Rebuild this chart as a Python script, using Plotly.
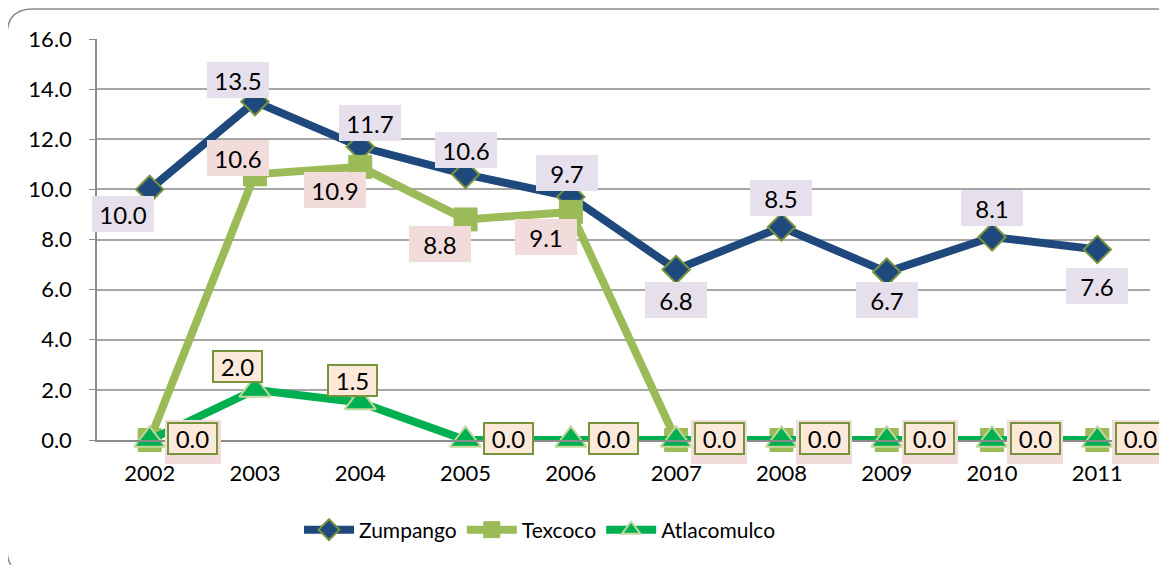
import plotly.graph_objects as go

years = ['2002', '2003', '2004', '2005', '2006', '2007', '2008', '2009', '2010', '2011']
zumpango = [10.0, 13.5, 11.7, 10.6, 9.7, 6.8, 8.5, 6.7, 8.1, 7.6]
texcoco = [0.0, 10.6, 10.9, 8.8, 9.1, 0.0, 0.0, 0.0, 0.0, 0.0]
atlacomulco = [0.0, 2.0, 1.5, 0.0, 0.0, 0.0, 0.0, 0.0, 0.0, 0.0]
y_ticks = [0, 2, 4, 6, 8, 10, 12, 14, 16]

# pixel offsets of the value boxes from their points
zum_shift = [(-27, -25), (-17, 22), (10, 24), (0, 24), (-4, 24),
             (0, -30), (0, 29), (0, -28), (0, 29), (0, -36)]
tex_shift = [(-17, 16), (-25, -23), (-26, -25), (-25, -25)]
atl_shift = [(-17, 23), (-8, 22)]

FONT = 'Lato'
OFF = 8  # page body margin
W, H = 1167, 565
L, R, T, B = 97 - OFF, 17 + OFF, 39 - OFF, 125 + OFF
PW, PH = W - L - R, H - T - B


def px(x):
    return (x - OFF - L) / PW


def py(y):
    return (H - B - (y - OFF)) / PH


fig = go.Figure()
fig.add_trace(go.Scatter(
    x=years, y=zumpango, name='Zumpango', mode='lines+markers', cliponaxis=False,
    line=dict(color='#1F497D', width=8),
    marker=dict(symbol='diamond', size=21, color='#1F497D',
                line=dict(color='#77933C', width=2))))
fig.add_trace(go.Scatter(
    x=years, y=texcoco, name='Texcoco', mode='lines+markers', cliponaxis=False,
    line=dict(color='#9BBB59', width=8),
    marker=dict(symbol='square', size=23, color='#9BBB59',
                line=dict(color='#9BBB59', width=1))))
fig.add_trace(go.Scatter(
    x=years, y=atlacomulco, name='Atlacomulco', mode='lines+markers', cliponaxis=False,
    line=dict(color='#00B050', width=8),
    marker=dict(symbol='triangle-up', size=27, color='#00B050',
                line=dict(color='#C3D69B', width=2))))


def label(i, v, text, dx, dy, w, h, bg, border=None):
    fig.add_annotation(
        x=i, y=v, xref='x', yref='y', text=text, showarrow=False,
        xshift=dx, yshift=dy, width=w, height=h, bgcolor=bg,
        bordercolor=border or 'rgba(0,0,0,0)', borderwidth=2 if border else 0,
        borderpad=0, font=dict(family=FONT, size=24, color='black'))


for i, v in enumerate(zumpango):
    dx, dy = zum_shift[i]
    label(i, v, f'{v:.1f}', dx, dy, 62, 36, '#E6E0EC')
k = 0
for i, v in enumerate(texcoco):
    if v > 0:
        dx, dy = tex_shift[k]
        k += 1
        label(i, v, f'{v:.1f}', dx, dy, 62, 36, '#F2DCDB')
    else:
        # hidden behind the Atlacomulco box, only its edge shows
        label(i, v, ' ', 43, -2, 56, 44, '#F2DCDB')
k = 0
for i, v in enumerate(atlacomulco):
    if v > 0:
        dx, dy = atl_shift[k]
        k += 1
    else:
        dx, dy = 43, 2
    label(i, v, f'{v:.1f}', dx, dy, 47, 29, '#FDE9D9', '#77933C')

# rounded outer frame
r = 26
a, b, c, d = 7, 9, 1182, 575
frame = (f'M {px(a)},{py(b + r)} Q {px(a)},{py(b)} {px(a + r)},{py(b)} '
         f'L {px(c - r)},{py(b)} Q {px(c)},{py(b)} {px(c)},{py(b + r)} '
         f'L {px(c)},{py(d - r)} Q {px(c)},{py(d)} {px(c - r)},{py(d)} '
         f'L {px(a + r)},{py(d)} Q {px(a)},{py(d)} {px(a)},{py(d - r)} Z')

fig.update_layout(
    width=W, height=H,
    margin=dict(l=L, r=R, t=T, b=B),
    paper_bgcolor='white', plot_bgcolor='white',
    font=dict(family=FONT, size=22, color='black'),
    shapes=[dict(type='path', path=frame, xref='paper', yref='paper',
                 line=dict(color='#8C8C8C', width=1.5), layer='below')],
    showlegend=True,
    legend=dict(orientation='h', x=px(299), xanchor='left', y=py(530), yanchor='middle',
                font=dict(family=FONT, size=21), itemwidth=50,
                traceorder='normal', bgcolor='rgba(0,0,0,0)'),
    xaxis=dict(type='category', range=[-0.5, 9.5], showgrid=False,
               showline=True, linecolor='#8C8C8C', linewidth=1.5,
               ticks='', ticklabelstandoff=13, tickfont=dict(size=22)),
    yaxis=dict(range=[0, 16], tickvals=y_ticks, tickformat='.1f',
               showgrid=True, gridcolor='#A6A6A6', gridwidth=1.5,
               showline=True, linecolor='#8C8C8C', linewidth=1.5,
               ticks='outside', ticklen=6, tickcolor='#8C8C8C',
               ticklabelstandoff=13, zeroline=False, tickfont=dict(size=22)),
)

fig.write_html('out.html')
